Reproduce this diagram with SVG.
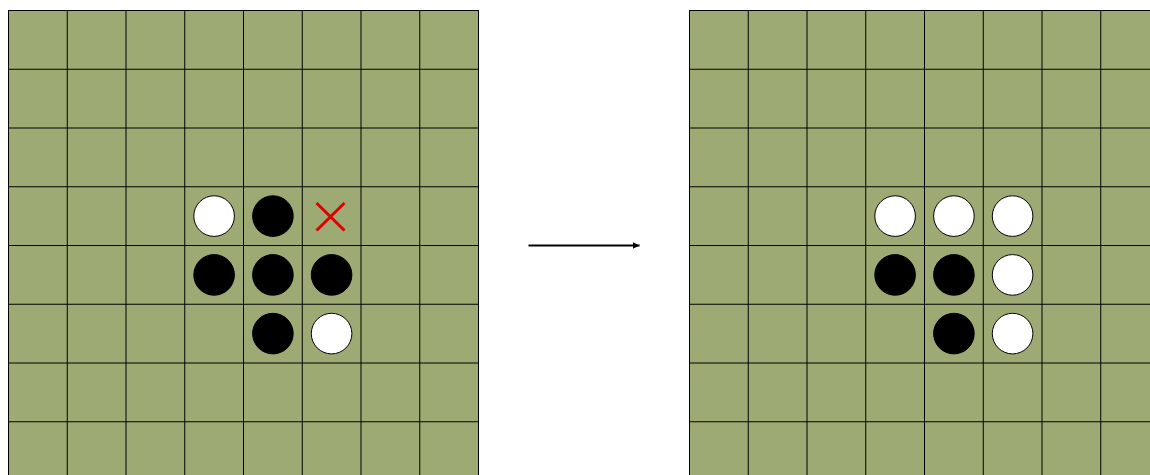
<svg xmlns="http://www.w3.org/2000/svg" width="1150" height="475" viewBox="0 0 1150 475">
<style>
.w{fill:#fff;stroke:#000;stroke-width:1}
.b{fill:#000;stroke:#000;stroke-width:1}
.x{stroke:#e00000;stroke-width:3;fill:none}
.arrow{stroke:#000;stroke-width:2;fill:none}
.grid{stroke:#000;stroke-width:1;fill:none}
.board{fill:#9eaa73;stroke:#000;stroke-width:1}
</style>
<defs>
<marker id="ah" markerWidth="8" markerHeight="8" refX="7" refY="4" orient="auto" markerUnits="userSpaceOnUse">
<path d="M0 0.5L7 4L0 7.5Z" fill="#000"/>
</marker>
</defs>
<g id="board-left">
<rect class="board" x="8.5" y="10.5" width="470" height="475"/>
<path class="grid" d="M67.25 10.5V475M126 10.5V475M184.75 10.5V475M243.5 10.5V475M302.25 10.5V475M361 10.5V475M419.75 10.5V475M8.5 69.25H478.5M8.5 128H478.5M8.5 186.75H478.5M8.5 245.5H478.5M8.5 304.25H478.5M8.5 363H478.5M8.5 421.75H478.5"/>
</g>
<g id="pieces-left">
<circle class="w" cx="214.1" cy="216.1" r="20.3"/>
<circle class="b" cx="272.9" cy="216.1" r="20.3"/>
<circle class="b" cx="214.1" cy="274.9" r="20.3"/>
<circle class="b" cx="272.9" cy="274.9" r="20.3"/>
<circle class="b" cx="331.6" cy="274.9" r="20.3"/>
<circle class="b" cx="272.9" cy="333.6" r="20.3"/>
<circle class="w" cx="331.6" cy="333.6" r="20.3"/>
</g>
<g id="mark-x">
<path class="x" d="M316.5 203L344.5 230.5M344.5 203L316.5 230.5"/>
</g>
<g id="connectors">
<line class="arrow" x1="528.5" y1="245.5" x2="639.5" y2="245.5" marker-end="url(#ah)"/>
</g>
<g id="board-right">
<rect class="board" x="689.5" y="10.5" width="470" height="475"/>
<path class="grid" d="M748.25 10.5V475M807 10.5V475M865.75 10.5V475M924.5 10.5V475M983.25 10.5V475M1042 10.5V475M1100.75 10.5V475M689.5 69.25H1159.5M689.5 128H1159.5M689.5 186.75H1159.5M689.5 245.5H1159.5M689.5 304.25H1159.5M689.5 363H1159.5M689.5 421.75H1159.5"/>
</g>
<g id="pieces-right">
<circle class="w" cx="895.1" cy="216.1" r="20.3"/>
<circle class="w" cx="953.9" cy="216.1" r="20.3"/>
<circle class="w" cx="1012.6" cy="216.1" r="20.3"/>
<circle class="b" cx="895.1" cy="274.9" r="20.3"/>
<circle class="b" cx="953.9" cy="274.9" r="20.3"/>
<circle class="w" cx="1012.6" cy="274.9" r="20.3"/>
<circle class="b" cx="953.9" cy="333.6" r="20.3"/>
<circle class="w" cx="1012.6" cy="333.6" r="20.3"/>
</g>
</svg>
